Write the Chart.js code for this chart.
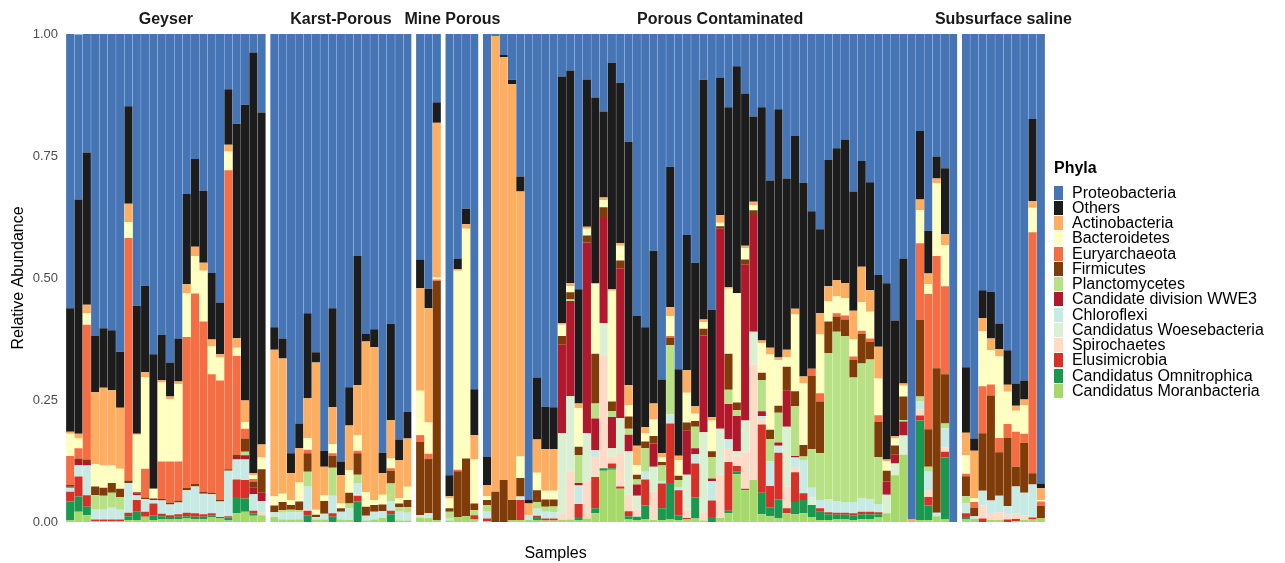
<!DOCTYPE html>
<html><head><meta charset="utf-8">
<script src="https://cdn.jsdelivr.net/npm/chart.js@4.4.1/dist/chart.umd.min.js"></script>
<style>
html,body{margin:0;padding:0;background:#fff;width:1285px;height:563px;overflow:hidden;font-family:"Liberation Sans",Arial,Helvetica,sans-serif}
#wrap{position:relative;width:1285px;height:563px}
#wrap canvas{position:absolute;left:0;top:0}
.txt{position:absolute;white-space:nowrap;color:#000}
</style></head><body>
<div id="wrap"></div>
<script>
// ---------------- DATA ----------------
const facetNames = ["Geyser","Karst-Porous","Mine","Porous","Porous Contaminated","Subsurface saline"];
const facetCounts = [24,17,3,4,57,10];
const phyla = ["Proteobacteria","Others","Actinobacteria","Bacteroidetes","Euryarchaeota","Firmicutes","Planctomycetes","Candidate division WWE3","Chloroflexi","Candidatus Woesebacteria","Spirochaetes","Elusimicrobia","Candidatus Omnitrophica","Candidatus Moranbacteria"];
const phylaColors = ["#4575b4","#1c1c1c","#fdae61","#ffffbf","#f46d43","#7f3b08","#b8e186","#b2182b","#c7eae5","#d9f0d3","#fddbc7","#d73027","#1a9850","#a6d96a"];
const yTicks = [0,0.25,0.5,0.75,1];

const proteobacteria = [
 .562,.338,.243,.619,.603,.607,.651,.148,.557,.516,.656,.617,.673,.624,.328,.256,.321,.49,.55,.113,.184,.145,.038,.161,
 .601,.624,.859,.798,.572,.652,.854,.562,.876,.724,.455,.615,.605,.858,.594,.831,.774,
 .463,.522,.14,
 .904,.46,.358,.728,
 .867,.004,.043,.094,.292,.954,.704,.764,.765,.087,
 .075,.523,.093,.13,.159,.059,.1,.221,.578,.601,
 .444,.708,.272,.687,.412,.469,.094,.565,.089,.15,
 .066,.122,.169,.15,.3,.154,.296,.209,.305,.364,
 .4,.258,.234,.216,.323,.26,.304,.494,.511,.587,
 .46,.995,.199,.403,.251,.275,1,
 .683,.829,.525,.528,.593,.648,.716,.71,.174,.921];
const others = [
 .253,.48,.312,.115,.122,.123,.115,.2,.262,.177,.276,.092,.07,.088,.185,.18,.148,.136,.106,.114,.439,.606,.862,.68,
 .046,.041,.041,.051,.174,.021,.033,.203,.028,.078,.265,.015,.037,.042,.197,.042,.055,
 .058,.04,.042,
 .043,.022,.032,.094,
 .057,0,.004,.009,.031,.008,.127,.087,.086,.505,
 .435,.234,.302,.38,.176,.464,.329,.499,.266,.205,
 .313,.151,.288,.177,.277,.294,.491,.22,.282,.369,
 .465,.312,.175,.478,.343,.509,.351,.354,.397,.323,
 .172,.259,.27,.294,.244,.217,.221,.147,.361,.237,
 .256,0,.14,.088,.045,.135,0,
 .134,.025,.057,.096,.053,.071,.046,.039,.168,.01];
const actinobacteria = [
 .004,.01,.017,.147,.159,.154,.125,.038,.002,.01,0,.005,.005,.005,.019,.019,.016,.014,.007,.014,.02,.044,.004,.027,
 .301,.277,.055,.07,.082,.302,.058,.075,.058,.092,.102,.309,.313,.044,.079,.079,.099,
 .21,.234,.317,
 .005,.003,.009,.05,
 .023,.934,.867,.852,.543,.024,.068,.085,.085,.004,
 .007,.01,.004,.003,.005,.003,.005,.04,.039,.012,
 .033,.008,.018,.009,.046,.015,.005,.007,.016,.003,
 0,.005,.007,.005,.014,.005,.015,.012,.014,0,
 .044,.031,.034,.031,.059,.072,.044,.065,.003,.005,
 .005,.005,.022,.022,.01,.023,0,
 .046,.098,.027,.024,.015,.014,.01,.012,.014,.024];
const bacteroidetes = [
 .046,.02,.024,.046,.046,.036,.041,.032,.118,.188,.02,.162,.128,.159,.089,.077,.104,.057,.047,.038,.017,.014,.008,.024,
 .018,.017,.01,.039,.024,.01,.012,.019,.01,.046,.032,.03,.01,.02,.02,.01,.027,
 .091,.064,.004,
 .02,.408,.471,.09,
 .008,0,0,0,.044,0,.036,.018,.018,.023,
 .012,.079,.014,.142,.015,.227,.03,.024,.02,.017,
 .034,.01,.041,.032,.061,.015,.014,.063,.007,.133,
 .224,.023,.01,.061,.154,.094,.02,.157,.126,0,
 .12,.041,.034,.036,.035,.059,.055,.075,.02,.014,
 .022,0,.068,.02,.149,.084,0,
 .038,.007,.113,.07,.167,.066,.043,.058,.05,.003];
const euryarchaeota = [
 .059,.021,.276,0,0,0,0,.497,0,.059,0,.077,.085,.08,.309,.39,.349,.243,.245,.613,.202,.02,.005,0,
 0,0,0,0,.007,0,0,.005,0,0,.005,0,0,0,.005,0,0,
 .014,.011,.003,
 0,.003,0,0,
 0,0,0,0,0,0,0,0,0,0,
 0,0,0,0,0,0,0,0,0,0,
 0,0,.003,0,0,0,0,0,0,0,
 0,0,0,0,0,0,0,0,0,.015,
 .017,0,.007,.008,.007,.007,.007,.014,0,0,
 0,0,.157,.277,.23,.18,0,
 .005,.012,.096,.023,.029,.029,.072,.019,.494,.009];
const firmicutes = [
 .004,.003,.005,.018,.016,.02,.017,.005,.003,.003,.003,.003,.003,.004,.005,.005,.004,.003,.003,.003,.005,.027,.012,.048,
 .014,.017,.01,.018,.038,.005,.026,.025,.007,.022,.044,.018,.014,.014,.026,.008,.015,
 .15,.111,.49,
 .007,.094,.118,.014,
 .01,.062,.086,.041,.038,0,.024,.015,.014,.018,
 .015,.017,.014,.102,.02,.02,.016,.025,.01,.014,
 .015,.007,.016,.009,.016,.012,.014,.012,.005,.074,
 .016,.011,.01,.015,.019,.014,.048,.031,.024,.15,
 .106,.065,.031,.034,.036,.06,.036,.072,.022,.018,
 .048,0,.157,.077,.296,.101,0,
 .041,.017,.118,.215,.089,.139,.04,.102,.023,.025];
const planctomycetes = [
 0,0,0,.03,.029,.031,.026,0,0,0,0,0,0,0,0,0,0,0,0,0,0,.007,0,0,
 0,.005,.005,.004,.029,0,0,.057,0,.01,.017,0,0,0,.036,.009,.011,
 0,0,0,
 .014,0,0,.01,
 .014,0,0,0,0,0,.014,.01,.012,0,
 .003,.057,0,.031,0,.012,0,.012,.01,.048,
 0,.032,.141,.016,0,.044,0,.044,0,.029,
 .012,0,0,.064,.046,.061,0,.102,.007,.079,
 .096,.3,.348,.34,.255,.277,.287,.096,0,0,
 .003,0,.01,.01,0,.01,0,
 .015,0,0,0,0,0,0,0,0,0];
const wwe3 = [
 .002,.01,.007,0,0,0,0,0,.003,0,0,0,0,0,0,0,0,0,0,0,.005,.009,.014,.017,
 0,0,0,0,0,0,0,0,0,0,0,0,0,0,0,0,0,
 0,0,0,
 0,0,0,0,
 0,0,0,0,0,0,0,0,0,.181,
 .195,.005,.391,.065,.217,.064,.307,.034,.023,0,
 .048,0,0,0,.091,.012,.198,.005,.41,.072,
 .072,.319,.239,.01,0,.007,.075,.003,0,0,
 0,0,0,0,0,0,0,0,.027,.019,
 .029,0,0,0,0,0,0,
 0,0,0,0,0,0,0,0,0,0];
const chloroflexi = [
 .008,.024,.061,.02,.02,.024,.02,.061,.01,.026,.007,.027,.022,.024,.046,.055,.042,.039,.032,.093,.041,.042,.034,.024,
 .01,.014,.015,.015,.048,.005,.012,.036,.016,.024,.024,.01,.016,.014,.02,.018,.016,
 .005,.01,0,
 .004,0,0,0,
 .014,0,0,0,.007,.01,.014,.014,.013,0,
 0,.038,0,.014,0,0,0,0,0,.016,
 .003,.005,.019,.005,0,.019,0,.04,0,.02,
 0,0,0,.007,.05,.014,0,.02,.068,.02,
 .017,.026,.023,.022,.023,.027,.025,.017,0,0,
 0,0,.017,.038,.007,.039,0,
 .02,.006,.03,.026,.034,.018,.055,.046,.068,0];
const woesebacteria = [
 0,0,0,0,0,0,0,0,0,0,0,0,0,0,0,0,0,0,0,0,0,0,0,0,
 0,0,0,0,0,0,0,0,0,0,0,0,0,0,0,0,0,
 0,0,0,
 0,0,0,0,
 0,0,0,0,0,0,0,0,0,.164,
 .154,0,.1,0,.068,.017,.072,.089,.029,0,
 .048,0,0,0,.072,0,.164,0,.094,0,
 .012,.065,.068,0,0,0,.123,0,0,.015,
 0,0,0,0,0,0,0,0,.038,.024,
 .039,0,0,0,0,0,0,
 0,0,0,0,0,0,0,0,0,0];
const spirochaetes = [
 0,0,0,0,0,0,0,0,0,0,0,0,0,0,0,0,0,0,0,0,0,0,0,.005,
 0,0,0,0,.003,0,0,0,0,0,.002,0,0,0,0,0,0,
 0,0,0,
 0,0,0,0,
 0,0,0,0,0,0,0,0,0,.014,
 .099,0,.075,.041,.23,.014,.068,.034,.014,0,
 .058,0,0,0,.017,0,.017,0,.089,.027,
 .018,.075,.236,.01,0,0,.044,.01,0,0,
 0,0,0,0,0,0,0,0,0,0,
 0,0,.012,.014,0,.009,0,
 0,0,.027,.014,.016,.01,.012,.01,0,0];
const elusimicrobia = [
 .02,.041,.024,.003,.003,.003,.003,.007,.024,.01,.024,.005,.004,.005,.007,.007,.005,.004,.002,.003,.036,.038,.005,0,
 0,0,0,0,.009,0,0,.007,0,0,.012,0,0,0,.007,0,0,
 0,0,0,
 0,0,0,.009,
 .005,0,0,0,.041,0,.003,.004,.004,0,
 0,.027,0,.064,0,.01,.005,.01,0,.053,
 0,.051,.122,.051,.003,.07,0,.034,0,.1,
 .012,.003,0,.14,.044,.096,.01,.061,.014,0,
 .007,.004,.004,.004,.004,.005,.005,.004,0,0,
 0,0,.01,.017,0,.012,0,
 .008,0,.007,0,0,.005,.004,0,.004,0];
const omnitrophica = [
 .038,.031,.017,0,0,0,0,.008,.017,0,.01,.007,.005,.005,.005,.005,.005,.004,0,.006,.033,.027,.005,0,
 0,0,0,0,.014,0,0,.011,0,0,.042,0,0,0,.016,0,0,
 0,0,0,
 0,0,0,0,
 0,0,0,0,0,0,.007,0,0,0,
 0,.007,0,.01,.005,.003,0,.007,.007,.029,
 0,.024,.075,.01,0,.043,0,.01,0,.005,
 .005,0,0,.044,.018,.038,0,.025,.027,.025,
 .017,.012,.01,.01,.01,.01,.01,.007,0,0,
 0,0,.204,.03,0,.127,0,
 .005,0,0,0,0,0,0,0,0,0];
const moranbacteria = [
 .004,.021,.014,.002,.002,.002,.002,.004,.004,.011,.004,.005,.005,.006,.007,.006,.006,.01,.008,.003,.018,.021,.013,.014,
 .01,.005,.005,.005,0,.005,.005,0,.005,.004,0,.003,.005,.008,0,.003,.003,
 .009,.008,.004,
 .003,.01,.012,.005,
 .002,0,0,.004,.004,.004,.003,.003,.003,.004,
 .005,.003,.007,.018,.105,.107,.068,.005,.004,.005,
 .004,.004,.005,.004,.005,.007,.003,0,.008,.018,
 .098,.065,.086,.016,.012,.008,.018,.016,.018,.01,
 .004,.004,.005,.005,.004,.006,.006,.009,.018,.096,
 .138,0,.004,.004,.012,.005,0,
 .005,.006,0,.004,.004,0,.002,.004,.005,.008];

const seriesValues = [proteobacteria,others,actinobacteria,bacteroidetes,euryarchaeota,firmicutes,planctomycetes,wwe3,chloroflexi,woesebacteria,spirochaetes,elusimicrobia,omnitrophica,moranbacteria];

// ---------------- LAYOUT ----------------
const W = 1285, H = 563;
const FONT = '"Liberation Sans", Arial, Helvetica, sans-serif';
const plotLeft = 66, plotRight = 1045, panelGap = 4.3, plotTop = 34, plotBottom = 522;
const totalBars = facetCounts.reduce((a,b)=>a+b,0);
const barW = (plotRight - plotLeft - panelGap*(facetCounts.length-1)) / totalBars;
const stripAlign = ["center","center","right","left","center","center"];

// strip label plugin: draws the facet name above each panel (no width squeezing)
const stripPlugin = {
  id: 'strip',
  afterDraw(chart, args, opts) {
    const ctx = chart.ctx, ca = chart.chartArea;
    ctx.save();
    ctx.font = 'bold 16px ' + FONT;
    ctx.fillStyle = '#1a1a1a';
    ctx.textBaseline = 'middle';
    ctx.textAlign = opts.align;
    const x = opts.align === 'left' ? ca.left : opts.align === 'right' ? ca.right : (ca.left + ca.right) / 2;
    ctx.fillText(opts.text, x, 20);
    ctx.restore();
  }
};

const wrap = document.getElementById('wrap');
let startIdx = 0, x0 = plotLeft;
facetCounts.forEach((n, fi) => {
  const x1 = x0 + n*barW;
  const labels = [];
  for (let k=0;k<n;k++) labels.push(facetNames[fi] + ' ' + (k+1));
  const datasets = [];
  for (let s = phyla.length-1; s >= 0; s--) {
    datasets.push({
      label: phyla[s],
      data: seriesValues[s].slice(startIdx, startIdx+n),
      backgroundColor: phylaColors[s],
      borderWidth: 0,
      barPercentage: 0.97,
      categoryPercentage: 1
    });
  }
  const cv = document.createElement('canvas');
  cv.width = W; cv.height = H;
  cv.style.width = W+'px'; cv.style.height = H+'px';
  wrap.appendChild(cv);
  const isFirst = fi === 0;
  const yScale = {
    stacked: true, min: 0, max: 1, display: isFirst,
    grid: { display: false, drawTicks: false },
    border: { display: false }
  };
  if (isFirst) {
    Object.assign(yScale, {
      afterFit: (sc) => { sc.width = plotLeft; },
      afterBuildTicks: (sc) => { sc.ticks = yTicks.map(v => ({ value: v })); },
      ticks: { color: '#4d4d4d', padding: 8, font: { family: FONT, size: 13 },
               callback: (v) => Number(v).toFixed(2) },
      title: { display: true, text: 'Relative Abundance', color: '#000',
               font: { family: FONT, size: 16 }, padding: { top: 9, bottom: 0 } }
    });
  }
  new Chart(cv, {
    type: 'bar',
    data: { labels, datasets },
    plugins: [stripPlugin],
    options: {
      responsive: false, animation: false, devicePixelRatio: 1,
      layout: { padding: { left: isFirst ? 0 : x0, right: W - x1, top: plotTop, bottom: H - plotBottom } },
      plugins: {
        legend: { display: false },
        tooltip: { enabled: false },
        title: { display: false },
        strip: { text: facetNames[fi], align: stripAlign[fi] }
      },
      scales: {
        x: { stacked: true, display: false },
        y: yScale
      }
    }
  });
  startIdx += n;
  x0 = x1 + panelGap;
});

// x-axis title
const xt = document.createElement('div');
xt.className = 'txt';
xt.textContent = 'Samples';
xt.style.cssText += 'font-size:16px;left:' + ((plotLeft+plotRight)/2) + 'px;top:553px;transform:translate(-50%,-50%);';
wrap.appendChild(xt);

// legend
const lg = document.createElement('div');
lg.style.cssText = 'position:absolute;left:1054px;top:158px;';
const lt = document.createElement('div');
lt.textContent = 'Phyla';
lt.style.cssText = 'font-weight:bold;font-size:16px;line-height:20px;height:27px;color:#000;';
lg.appendChild(lt);
phyla.forEach((p, i) => {
  const row = document.createElement('div');
  row.style.cssText = 'position:relative;height:15.25px;';
  const key = document.createElement('div');
  key.style.cssText = 'position:absolute;left:0;top:0.6px;width:9px;height:14px;background:' + phylaColors[i] + ';';
  const tx = document.createElement('div');
  tx.textContent = p;
  tx.style.cssText = 'position:absolute;left:18px;top:-1.5px;font-size:16px;line-height:17px;color:#000;white-space:nowrap;';
  row.appendChild(key); row.appendChild(tx);
  lg.appendChild(row);
});
wrap.appendChild(lg);
</script>
</body></html>
